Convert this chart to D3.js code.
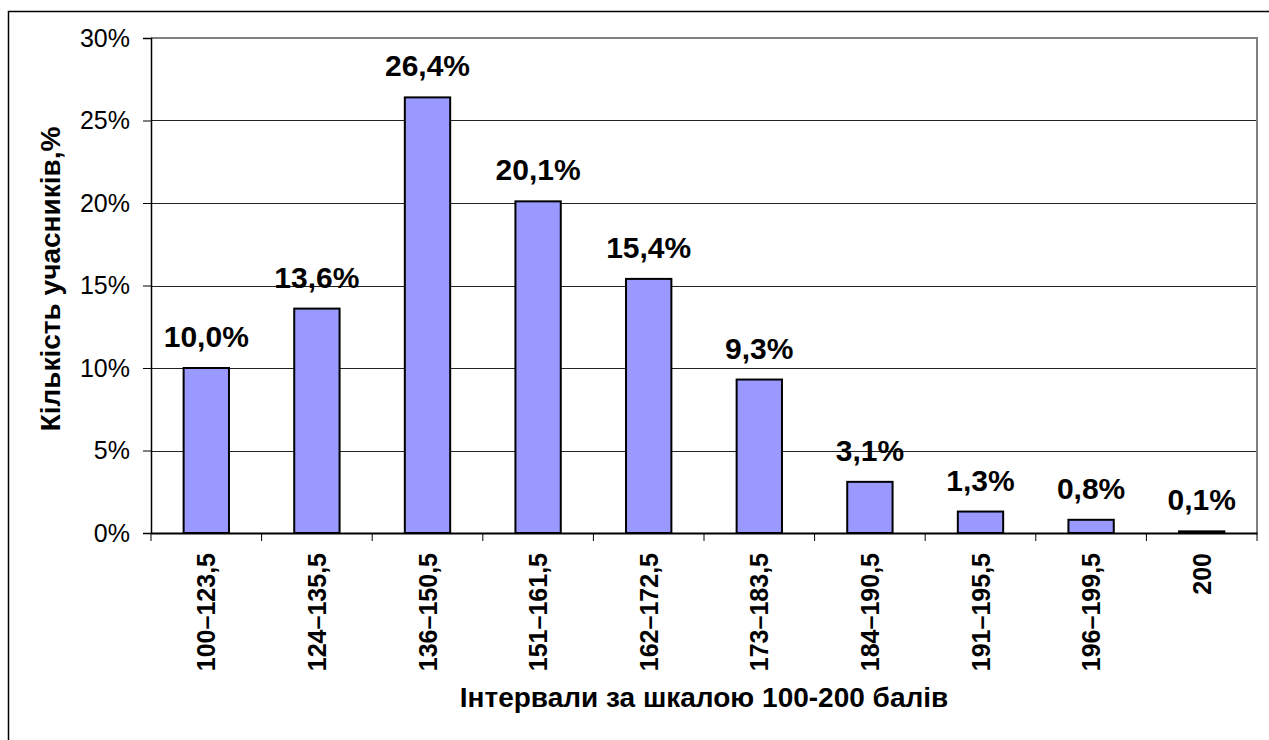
<!DOCTYPE html>
<html lang="uk">
<head>
	<meta charset="utf-8">
	<title>Інтервали за шкалою 100-200 балів</title>
	<script src="https://cdn.jsdelivr.net/npm/d3@7"></script>
	<style>
		body { margin: 0; background: #fff; }
		text { font-family: "Liberation Sans", Arial, sans-serif; fill: #000; }
	</style>
</head>
<body>
<script>
	// data
	var categories = ["100–123,5", "124–135,5", "136–150,5", "151–161,5", "162–172,5",
	                  "173–183,5", "184–190,5", "191–195,5", "196–199,5", "200"];
	var shares = [10.0, 13.6, 26.4, 20.1, 15.4, 9.3, 3.1, 1.3, 0.8, 0.1];
	var yTicks = [0, 5, 10, 15, 20, 25, 30];

	var W = 1269, H = 740;
	var plot = {left: 151, right: 1257, top: 38, bottom: 533};

	var svg = d3.select("body").append("svg")
		.attr("width", W)
		.attr("height", H);

	// outer chart frame (runs off the right and bottom edge)
	svg.append("rect")
		.attr("x", 8.5).attr("y", 11.5)
		.attr("width", W + 20).attr("height", H + 20)
		.attr("fill", "#fff")
		.attr("stroke", "#000")
		.attr("stroke-width", 1.5);

	var xScale = d3.scaleBand()
		.domain(categories)
		.range([plot.left, plot.right]);

	var yScale = d3.scaleLinear()
		.domain([0, 30])
		.range([plot.bottom, plot.top]);

	// gridlines
	svg.append("g")
		.selectAll("line")
		.data(yTicks.filter(function(d){ return d > 0 && d < 30; }))
		.enter().append("line")
		.attr("x1", plot.left).attr("x2", plot.right)
		.attr("y1", function(d){ return Math.round(yScale(d)) + 0.5; })
		.attr("y2", function(d){ return Math.round(yScale(d)) + 0.5; })
		.attr("stroke", "#222")
		.attr("stroke-width", 1);

	// plot area border, top and right in grey
	svg.append("path")
		.attr("d", "M" + plot.left + "," + yScale(30) + "H" + plot.right + "V" + plot.bottom)
		.attr("fill", "none")
		.attr("stroke", "#808080")
		.attr("stroke-width", 2);

	// bars
	var barW = xScale.bandwidth() * 0.41;
	svg.append("g")
		.selectAll("rect")
		.data(shares)
		.enter().append("rect")
		.attr("x", function(d, i){ return xScale(categories[i]) + (xScale.bandwidth() - barW) / 2; })
		.attr("y", function(d){ return yScale(d); })
		.attr("width", barW)
		.attr("height", function(d){ return yScale(0) - yScale(d); })
		.attr("fill", "#9999ff")
		.attr("stroke", "#000")
		.attr("stroke-width", 2);

	// value labels
	svg.append("g")
		.selectAll("text")
		.data(shares)
		.enter().append("text")
		.attr("x", function(d, i){ return xScale(categories[i]) + xScale.bandwidth() / 2; })
		.attr("y", function(d){ return yScale(d) - 21; })
		.attr("text-anchor", "middle")
		.style("font-size", "30px")
		.style("font-weight", "bold")
		.text(function(d){ return d3.format(".1f")(d).replace(".", ",") + "%"; });

	// y axis
	var yAxis = d3.axisLeft(yScale)
		.tickValues(yTicks)
		.tickSize(8)
		.tickPadding(13)
		.tickFormat(function(d){ return d + "%"; });
	var gy = svg.append("g")
		.attr("transform", "translate(" + plot.left + ",0)")
		.call(yAxis);
	gy.select(".domain").attr("stroke", "#000").attr("stroke-width", 1.5);
	gy.selectAll(".tick line").attr("stroke", "#000");
	gy.selectAll(".tick text")
		.style("font-size", "25px")
		.attr("font-family", null);

	// x axis
	var xAxis = d3.axisBottom(xScale).tickSize(0).tickFormat("");
	var gx = svg.append("g")
		.attr("transform", "translate(0," + plot.bottom + ")")
		.call(xAxis);
	gx.select(".domain").attr("stroke", "#000").attr("stroke-width", 2);
	gx.selectAll(".bnd")
		.data(d3.range(categories.length + 1))
		.enter().append("line")
		.attr("x1", function(i){ return plot.left + i * xScale.bandwidth(); })
		.attr("x2", function(i){ return plot.left + i * xScale.bandwidth(); })
		.attr("y1", 0).attr("y2", 8)
		.attr("stroke", "#000");

	// category labels, rotated
	svg.append("g")
		.selectAll("text")
		.data(categories)
		.enter().append("text")
		.attr("transform", function(d){
			return "translate(" + (xScale(d) + xScale.bandwidth() / 2 + 9) + "," + 553 + ") rotate(-90)";
		})
		.attr("text-anchor", "end")
		.style("font-size", "25px")
		.style("font-weight", "bold")
		.text(function(d){ return d; });

	// axis titles
	svg.append("text")
		.attr("x", (plot.left + plot.right) / 2)
		.attr("y", 707)
		.attr("text-anchor", "middle")
		.style("font-size", "28px")
		.style("font-weight", "bold")
		.text("Інтервали за шкалою 100-200 балів");

	svg.append("text")
		.attr("transform", "translate(60,279) rotate(-90)")
		.attr("text-anchor", "middle")
		.style("font-size", "28px")
		.style("font-weight", "bold")
		.text("Кількість учасників,%");
</script>
</body>
</html>
